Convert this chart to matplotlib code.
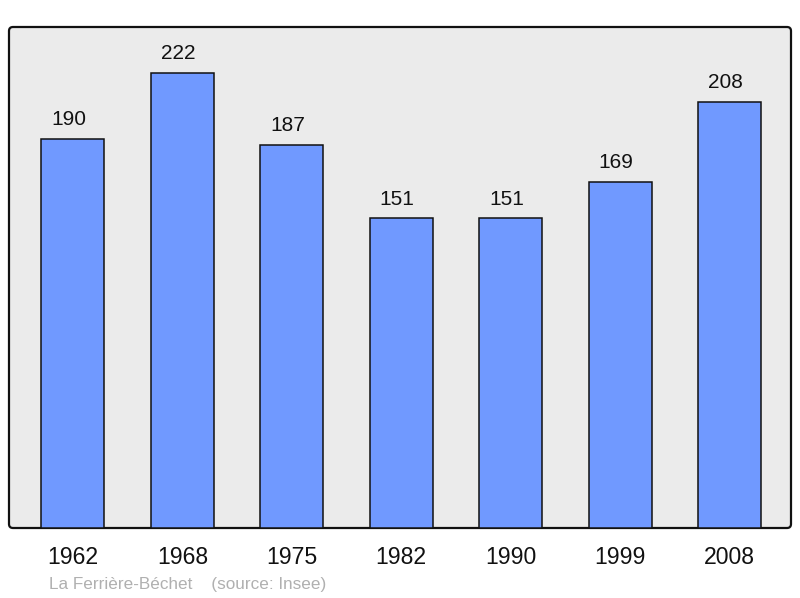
import matplotlib
matplotlib.use("Agg")
import matplotlib.pyplot as plt
from matplotlib.patches import FancyBboxPatch
from matplotlib.transforms import IdentityTransform

years = ["1962", "1968", "1975", "1982", "1990", "1999", "2008"]
population = [190, 222, 187, 151, 151, 169, 208]
caption = "La Ferrière-Béchet    (source: Insee)"

plt.rcParams['font.family'] = ['Liberation Sans', 'DejaVu Sans']

W, H = 800, 598
fig = plt.figure(figsize=(W / 100, H / 100), dpi=100)
L, R, T, B = 9, 791, 27, 528
ax = fig.add_axes([L / W, (H - B) / H, (R - L) / W, (B - T) / H])
ax.set_facecolor('none')
for s in ax.spines.values():
    s.set_visible(False)

# rounded background frame in pixel coords
frame = FancyBboxPatch((L, H - B), R - L, B - T,
                       boxstyle="round,pad=0,rounding_size=4",
                       transform=IdentityTransform(), facecolor='#ebebeb',
                       edgecolor='#111111', linewidth=1.6, zorder=0,
                       clip_on=False)
ax.add_artist(frame)

x = list(range(len(years)))
ax.bar(x, population, width=0.575, color='#7099ff', edgecolor='#111111',
       linewidth=1.1, zorder=2)
ax.set_xlim(-0.584, 6.562)
ax.set_ylim(0, 244.4)
ax.set_xticks([])
ax.set_yticks([])

for xi, v in zip(x, population):
    ax.annotate(str(v), (xi, v), xytext=(-3, 13.8), textcoords='offset points',
                ha='center', va='center', fontsize=15, color='#111111')
    ax.annotate(years[xi], (xi, 0), xytext=(0, -21.5), textcoords='offset points',
                ha='center', va='center', fontsize=16.6, color='#111111')

fig.text(49 / W, 1 - 584 / H, caption, ha='left', va='center',
         fontsize=12.3, color='#b0b0b0')

fig.savefig('out.png', dpi=100)
